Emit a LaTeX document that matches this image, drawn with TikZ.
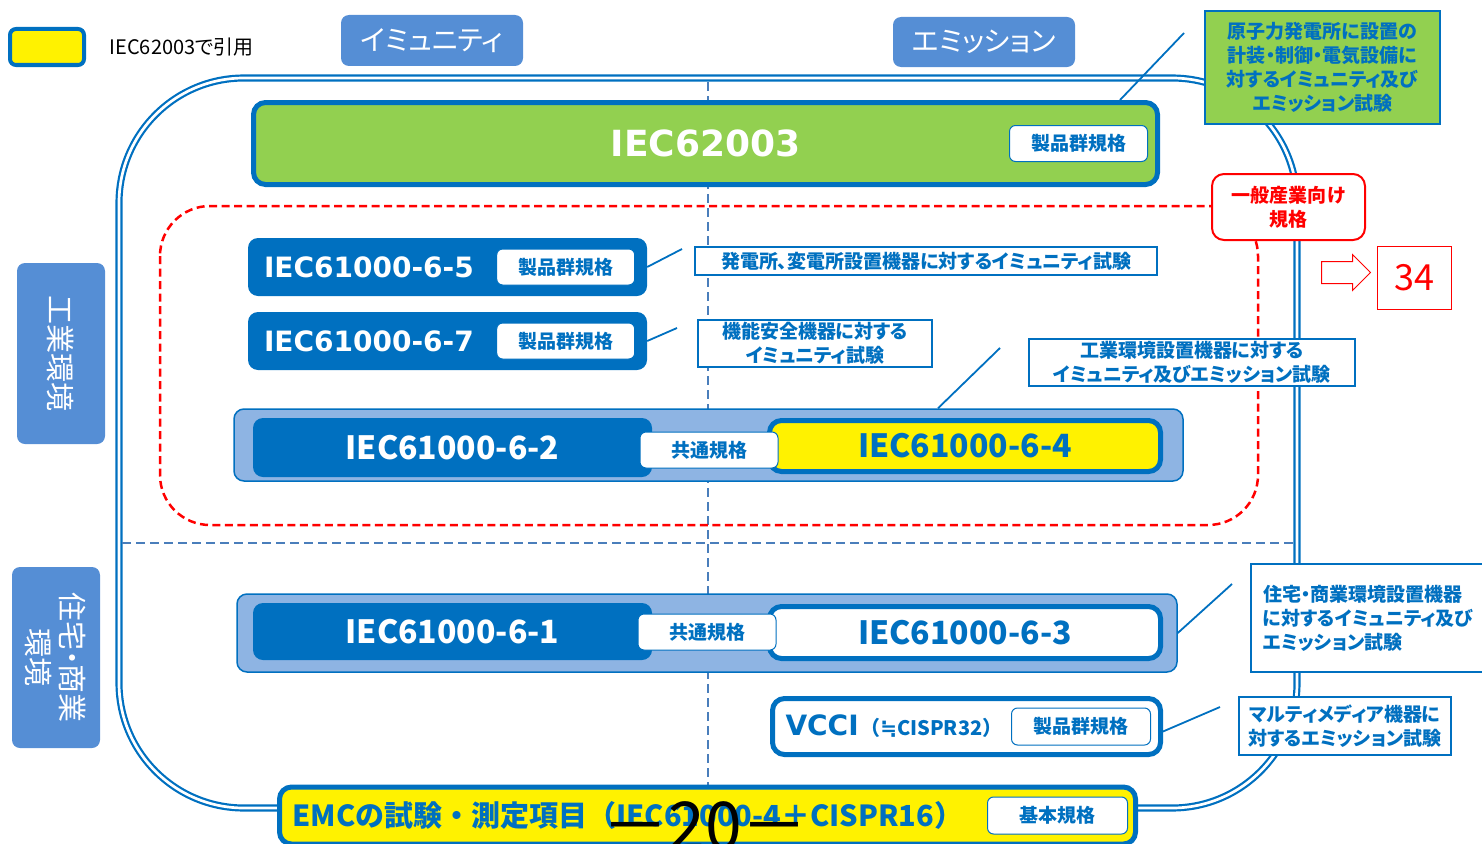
\documentclass[tikz,border=0pt]{standalone}
\usepackage{fontspec}
\setmainfont{Noto Sans CJK JP}[RawFeature=+palt]
\newfontfamily\jpfull{Noto Sans CJK JP}
\newfontfamily\verd{DejaVu Sans}
\usepackage{tikz}
\usetikzlibrary{positioning,calc,shapes.arrows}
\definecolor{eblue}{HTML}{0070C0}
\definecolor{tabblue}{HTML}{558ED5}
\definecolor{rowblue}{HTML}{8EB4E3}
\definecolor{egreen}{HTML}{92D050}
\definecolor{divblue}{HTML}{4A7EBB}
\definecolor{ered}{HTML}{FF0000}
\tikzset{tab/.style={fill=tabblue,rounded corners=8pt,text=white,inner sep=0pt,font=\fontsize{28}{32}\selectfont},
  sidetab/.style={tab,rotate=-90,minimum width=181pt,minimum height=88pt,align=center,font=\fontsize{29}{34}\selectfont},
  frame/.style={draw=eblue,line width=2.2pt,double=white,double distance=2.7pt,rounded corners=125pt},
  divider/.style={draw=divblue,line width=2pt,dash pattern=on 9pt off 5pt},
  redzone/.style={draw=ered,line width=2.5pt,dash pattern=on 8pt off 4.5pt,rounded corners=50pt},
  darkbox/.style={fill=eblue,rounded corners=10pt,text=white,inner sep=0pt},
  stdbox/.style={draw=eblue,line width=5pt,rounded corners=12pt,inner sep=0pt},
  rowbox/.style={draw=eblue,line width=1.5pt,fill=rowblue,rounded corners=10pt},
  tag/.style={draw=eblue,line width=1pt,fill=white,rounded corners=6pt,text=eblue,inner sep=0pt,minimum width=138pt,minimum height=36pt,font=\bfseries\fontsize{19}{22}\selectfont},
  note/.style={draw=eblue,line width=2pt,fill=white,text=eblue,inner sep=0pt,align=center,font=\bfseries\fontsize{19}{24}\selectfont},
  leader/.style={draw=eblue,line width=1.8pt},
  iecw/.style={font=\verd\bfseries\fontsize{28}{32}\selectfont},
  iecn/.style={font=\bfseries\fontsize{32}{36}\selectfont}}

\begin{document}
\begin{tikzpicture}[x=1pt,y=-1pt]
\useasboundingbox (0,0) rectangle (1482,843);
\draw[frame] (119,78) rectangle (1297,808);
\draw[divider] (708,82) -- (708,808);
\draw[divider] (122,543) -- (1294,543);
\draw[redzone] (160,206) rectangle (1258,525);

\node[stdbox,fill=yellow,line width=4pt,rounded corners=6pt,minimum width=74pt,minimum height=36pt] (legend) at (47,47) {};
\node[right=20pt of legend,font=\fontsize{20}{24}\selectfont] (legendtxt) {IEC62003で引用};
\node[tab,minimum width=182pt,minimum height=51pt] (immunity) at (432,40.5) {イミュニティ};
\node[tab,minimum width=182pt,minimum height=50pt] (emission) at (984,42) {エミッション};
\node[sidetab] (industrial) at (61,353.5) {工業環境};
\node[sidetab] (residential) at (56,657.5) {住宅・商業\\環境};

\node[stdbox,fill=egreen,minimum width=904pt,minimum height=82pt,text=white,font=\verd\bfseries\fontsize{36}{40}\selectfont] (iec62003) at (705.5,143.5) {IEC62003};
\node[tag,left=12pt of iec62003.east] (tag62003) {製品群規格};
\node[note,fill=egreen,minimum width=235pt,minimum height=113pt] (nuclear) at (1322.5,67.5) {原子力発電所に設置の\\計装・制御・電気設備に\\対するイミュニティ及び\\エミッション試験};
\coordinate (p62003) at (1184,33);
\draw[leader] ($(iec62003.north east)+(-40,0)$) -- (p62003);

\node[draw=ered,line width=2pt,fill=white,rounded corners=12pt,text=ered,align=center,minimum width=153pt,minimum height=66pt,font=\bfseries\fontsize{19}{24}\selectfont] (general) at (1288.5,207) {一般産業向け\\規格};
\node[single arrow,draw=ered,fill=white,line width=1pt,inner xsep=0pt,inner ysep=10.5pt,single arrow head extend=7pt,minimum height=49pt] (arrow34) at (1340.5,272.5) {};
\node[draw=ered,line width=1.2pt,minimum width=74pt,minimum height=63pt,text=ered,font=\fontsize{36}{40}\selectfont] (page34) at (1414.5,278) {34};

\node[darkbox,minimum height=58pt,text width=367pt,inner xsep=16pt,align=left,iecw] (iec6105) at (447.5,267) {IEC61000-6-5};
\node[tag,left=12pt of iec6105.east] (tag6105) {製品群規格};
\node[darkbox,minimum height=58pt,text width=367pt,inner xsep=16pt,align=left,iecw] (iec6107) at (447.5,341) {IEC61000-6-7};
\node[tag,left=12pt of iec6107.east] (tag6107) {製品群規格};
\node[note,minimum width=462pt,minimum height=28pt] (note6105) at (926,261) {発電所、変電所設置機器に対するイミュニティ試験};
\node[note,minimum width=234pt,minimum height=47pt] (note6107) at (815,343.5) {機能安全機器に対する\\イミュニティ試験};
\node[note,minimum width=326pt,minimum height=47pt] (note62) at (1192,362.5) {工業環境設置機器に対する\\イミュニティ及びエミッション試験};
\coordinate (p6105) at (682,249);
\coordinate (p6107) at (677,328);
\coordinate (p62) at (1000,348);
\draw[leader] (iec6105.east) -- (p6105);
\draw[leader] (iec6107.east) -- (p6107);

\node[rowbox,minimum width=949pt,minimum height=72pt] (row62) at (708.5,445) {};
\node[darkbox,minimum width=399pt,minimum height=59pt,iecn] (iec6102) at (452.5,447.5) {IEC61000-6-2};
\node[stdbox,fill=yellow,minimum width=391pt,minimum height=51pt,text=eblue,iecn] (iec6104) at (965,446) {IEC61000-6-4};
\node[tag] (tag62) at (709,450) {共通規格};
\draw[leader] ($(row62.north)+(229.5,0)$) -- (p62);

\node[rowbox,minimum width=940pt,minimum height=78pt] (row61) at (707,633) {};
\node[darkbox,minimum width=399pt,minimum height=57pt,iecn] (iec6101) at (452.5,631.5) {IEC61000-6-1};
\node[stdbox,fill=white,minimum width=391pt,minimum height=52pt,text=eblue,iecn] (iec6103) at (965,632.5) {IEC61000-6-3};
\node[tag] (tag61) at (707,632) {共通規格};
\node[note,minimum height=108pt,text width=220pt,inner xsep=12pt,align=left] (note61) at (1373,618) {住宅・商業環境設置機器\\に対するイミュニティ及び\\エミッション試験};
\coordinate (p61) at (1232,584);
\draw[leader] (row61.east) -- (p61);

\node[stdbox,fill=white,minimum height=56pt,text width=362pt,inner xsep=13pt,align=left,text=eblue] (vcci) at (966.5,726.5) {{\verd\bfseries\fontsize{28}{32}\selectfont VCCI}\,{\jpfull\bfseries\fontsize{20}{24}\selectfont（{\verd ≒}CISPR32）}};
\node[tag,left=12pt of vcci.east,minimum width=139pt,minimum height=37pt] (tagvcci) {製品群規格};
\node[note,minimum width=212pt,minimum height=58pt] (note63) at (1345,726) {マルティメディア機器に\\対するエミッション試験};
\coordinate (pvcci) at (1220,707);
\draw[leader] ($(vcci.east)+(0,5)$) -- (pvcci);

\node[stdbox,fill=yellow,minimum height=57pt,text width=830pt,inner xsep=13pt,align=left,text=eblue,font=\jpfull\bfseries\fontsize{29}{32}\selectfont] (emc) at (707.5,815.5) {EMCの試験・測定項目（IEC61000-4＋CISPR16）};
\node[tag,left=10pt of emc.east,minimum width=140pt,minimum height=37pt] (tagemc) {基本規格};
\node[font=\fontsize{66}{68}\selectfont] (pageno) at (705,826) {－20－};
\end{tikzpicture}
\end{document}
